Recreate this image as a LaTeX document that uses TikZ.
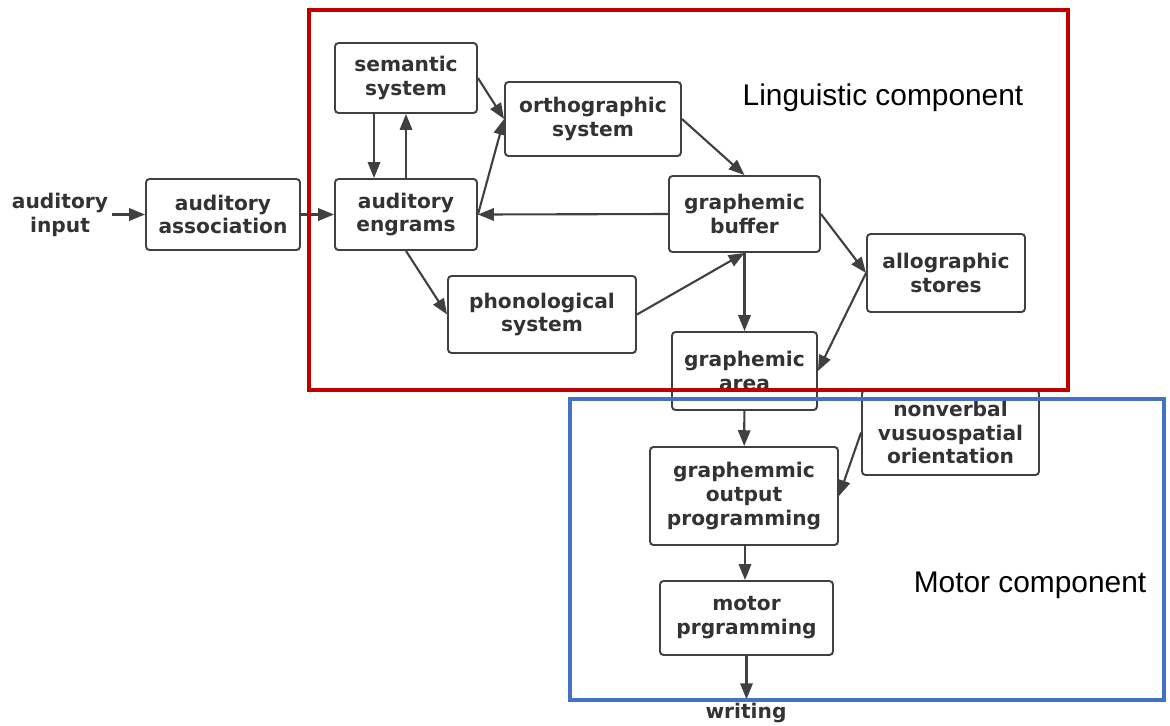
\documentclass[tikz,border=0pt]{standalone}
\usepackage{fontspec}
\setmainfont{DejaVu Sans}
\newfontfamily\captionfont{Liberation Sans}
\usetikzlibrary{arrows.meta}
\definecolor{boxgray}{HTML}{404040}
\definecolor{textgray}{HTML}{333333}
\definecolor{lingred}{HTML}{C00000}
\definecolor{motorblue}{HTML}{4472C4}

\begin{document}
\begin{tikzpicture}[x=0.02cm, y=-0.02cm,
		box/.style={draw=boxgray, line width=1.1pt, rounded corners=2pt, fill=white, align=center,
			inner sep=0pt, text=textgray, font=\fontsize{11.5}{13.6}\selectfont\bfseries},
		plain/.style={align=center, inner sep=2pt, text=textgray, font=\fontsize{11.5}{13.6}\selectfont\bfseries},
		link/.style={draw=boxgray, line width=1.2pt, -{Triangle[length=9pt, width=7pt]}},
		frame/.style={line width=2.2pt},
		caption/.style={font=\captionfont\fontsize{17}{20}\selectfont, text=black}]
	\useasboundingbox (0,0) rectangle (1170,725);
	% nodes
	\node[plain] (input) at (60,214.5) {auditory\\input};
	\node[box, minimum width=3.08cm, minimum height=1.42cm] (assoc) at (223,214.5) {auditory\\association};
	\node[box, minimum width=2.84cm, minimum height=1.40cm] (semantic) at (406,78) {semantic\\system};
	\node[box, minimum width=3.52cm, minimum height=1.48cm] (ortho) at (593,119) {orthographic\\system};
	\node[box, minimum width=2.84cm, minimum height=1.42cm] (engrams) at (406,214.5) {auditory\\engrams};
	\node[box, minimum width=3.02cm, minimum height=1.52cm] (buffer) at (744.5,214) {graphemic\\buffer};
	\node[box, minimum width=3.76cm, minimum height=1.54cm] (phono) at (542,314.5) {phonological\\system};
	\node[box, minimum width=3.16cm, minimum height=1.56cm] (allo) at (946,273) {allographic\\stores};
	\node[box, minimum width=2.90cm, minimum height=1.56cm] (area) at (744.5,371) {graphemic\\area};
	\node[box, minimum width=3.54cm, minimum height=1.70cm] (nonverbal) at (950.5,432.5) {nonverbal\\vusuospatial\\orientation};
	\node[box, minimum width=3.76cm, minimum height=1.96cm] (output) at (744,496) {graphemmic\\output\\programming};
	\node[box, minimum width=3.46cm, minimum height=1.48cm] (motor) at (746.5,618) {motor\\prgramming};
	\node[plain] (writing) at (746,713) {writing};
	% connectors
	\draw[link] (input) -- (assoc);
	\draw[link] (assoc) -- (engrams);
	\draw[link] ([xshift=-0.64cm]semantic.south) -- ([xshift=-0.64cm]engrams.north);
	\draw[link] (engrams.north) -- (semantic.south);
	\draw[link] (semantic.east) -- (ortho.west);
	\draw[link] (engrams.east) -- (ortho.west);
	\draw[link] (ortho.east) -- (buffer.north);
	\draw[link] (buffer.west) -- (engrams.east);
	\draw[link] (engrams.south) -- (phono.west);
	\draw[link] (phono.east) -- (buffer.south);
	\draw[link] (buffer.south) -- (area.north);
	\draw[link] (buffer.east) -- (allo.west);
	\draw[link] (allo.west) -- (area.east);
	\draw[link] (area) -- (output);
	\draw[link] (nonverbal.west) -- (output.east);
	\draw[link] ([xshift=0.02cm]output.south) -- ([xshift=0.02cm]output.south |- motor.north);
	\draw[link] (motor.south) -- (motor.south |- writing.north);
	% components
	\draw[frame, lingred] (309,10) rectangle (1068,390);
	\draw[frame, motorblue] (570,399) rectangle (1164,700);
	\node[caption] (lingtext) at (883,98) {Linguistic component};
	\node[caption] (motortext) at (1030,585) {Motor component};
\end{tikzpicture}
\end{document}
